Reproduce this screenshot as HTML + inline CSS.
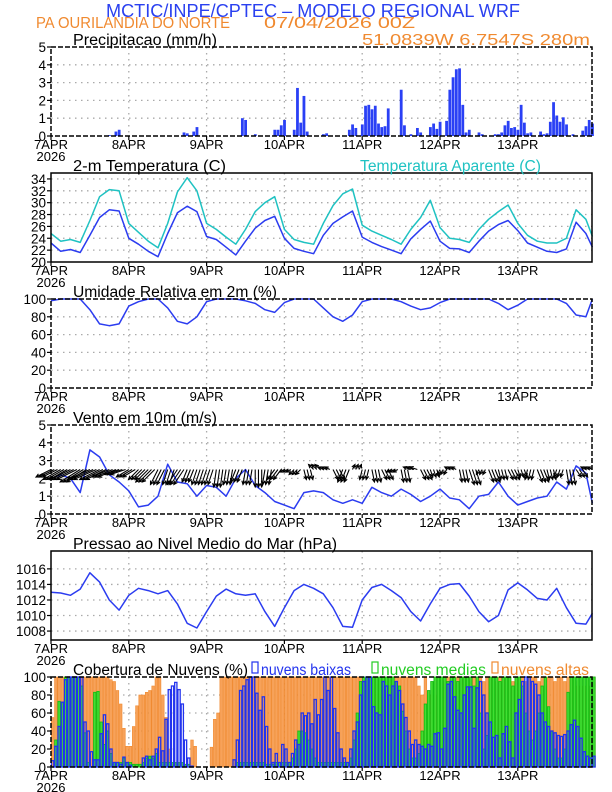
<!DOCTYPE html>
<html><head><meta charset="utf-8"><style>
html,body{margin:0;padding:0;background:#fff;}
svg{display:block;font-family:"Liberation Sans",sans-serif;}
</style></head><body>
<svg id="chart" width="612" height="792" viewBox="0 0 612 792" xmlns="http://www.w3.org/2000/svg">
<text x="106" y="17" font-size="18" fill="#2a40f0" textLength="414" lengthAdjust="spacingAndGlyphs">MCTIC/INPE/CPTEC – MODELO REGIONAL WRF</text>
<text x="36" y="28" font-size="16" fill="#f08a30" textLength="194" lengthAdjust="spacingAndGlyphs">PA OURILANDIA DO NORTE</text>
<text x="264" y="28" font-size="16" fill="#f08a30" textLength="151" lengthAdjust="spacingAndGlyphs">07/04/2026 00Z</text>
<text x="362" y="45" font-size="16" fill="#f08a30" textLength="228" lengthAdjust="spacingAndGlyphs">51.0839W 6.7547S 280m</text>
<g id="plots"></g>
</svg>
<script>
// ---------- DATA ----------
const days = ["7APR","8APR","9APR","10APR","11APR","12APR","13APR"];
const hours3 = [0,3,6,9,12,15,18,21,24,27,30,33,36,39,42,45,48,51,54,57,60,63,66,69,72,75,78,81,84,87,90,93,96,99,102,105,108,111,114,117,120,123,126,129,132,135,138,141,144,147,150,153,156,159,162,165,168];
const precipHours = [18,20,21,41,42,44,45,59,60,63,69,70,71,72,75,76,77,78,79,84,85,92,93,94,96,97,98,99,100,101,102,103,104,108,109,111,113,114,117,118,119,120,122,123,124,125,126,127,128,129,132,133,137,138,139,140,141,142,143,144,145,146,147,148,151,152,153,154,155,156,157,158,159,161,164,165,166,167];
const precipVals = [0.05,0.25,0.35,0.2,0.15,0.25,0.5,1.0,0.9,0.1,0.35,0.35,0.6,0.9,0.35,2.7,0.75,2.25,0.25,0.1,0.15,0.35,0.65,0.45,0.65,1.7,1.75,1.5,1.7,0.7,0.5,0.55,1.55,2.6,0.6,0.1,0.45,0.2,0.5,0.7,0.4,0.8,0.85,2.6,3.3,3.75,3.8,1.75,0.2,0.35,0.2,0.1,0.1,0.1,0.2,0.6,0.85,0.45,0.5,0.35,1.75,0.75,0.15,0.2,0.25,0.1,0.15,0.8,1.9,1.15,0.8,1.05,0.65,0.1,0.3,0.55,0.9,0.7];
const temp2m = [23.2,21.8,22.1,21.6,24.5,27.5,28.8,28.6,24.0,23.0,21.8,20.9,24.8,28.3,29.4,28.5,24.3,23.8,22.5,21.2,23.5,25.7,27.0,27.7,24.0,22.3,21.8,21.4,24.5,26.5,27.6,28.6,24.2,23.3,22.6,22.0,21.4,23.9,25.5,26.9,23.5,22.3,22.2,21.6,23.5,25.2,26.3,27.0,25.3,23.2,22.5,21.8,21.6,22.2,26.7,24.8,22.5];
const tempApparent = [24.8,23.5,23.8,23.3,27.0,31.0,32.2,32.0,26.5,25.0,23.5,22.4,26.5,31.8,34.2,32.0,26.5,25.5,24.2,23.0,25.5,28.5,30.0,31.0,25.5,23.8,23.3,23.0,26.5,29.5,31.5,32.3,26.2,25.2,24.5,23.8,23.0,25.5,27.5,30.4,25.8,24.0,23.8,23.3,25.5,27.2,28.5,29.6,26.5,24.5,23.5,23.2,23.2,24.0,28.8,27.2,24.3];
const relHum = [98,100,100,100,88,72,70,72,92,97,100,100,90,75,72,80,97,100,100,100,98,95,88,85,96,100,100,100,90,80,75,82,97,100,100,100,97,92,88,90,96,100,100,100,100,100,95,88,93,100,100,100,100,95,82,80,100];
const windSpeed = [2.0,2.2,2.0,1.2,3.6,3.2,2.2,1.8,1.3,0.4,0.5,1.0,2.8,1.8,1.7,1.0,1.6,1.5,1.0,2.0,2.5,1.6,1.2,0.7,0.5,0.3,1.2,1.3,1.2,0.8,0.6,0.8,0.6,1.5,1.2,1.0,1.4,1.1,0.7,1.0,1.4,0.9,0.8,0.3,1.0,1.1,1.8,1.0,0.5,0.7,0.9,1.0,1.8,1.4,2.7,2.3,0.6];
const windU = [-3,-3.5,-4,-4,-4.5,-4,-3.5,-3, -2.5,-2,-2.5,-1.5,-1,-2,-1,-1, -1,-0.5,-0.5,-1,-0.5,0,-0.5,-1.5, -1,-1,0.5,-1,-1,1,-1,0.5, -0.5,0.5,1,-1,0.5,-1.5,1,0.5, -0.5,-1,0.5,1,-0.5,1,0.5,1, 0.5,-0.5,1,0.5,-0.5,0.5,1,-1,-2];
const windV = [-1.5,-2,-2,-2.5,-2,-2,-1.5,-1, -1.5,-2,-2.5,-3,-3,-3,-2.5,-3, -3,-3.5,-3,-2.5,-3,-3.5,-3,-2, -0.5,-1,-2,1,0.5,-2,-2.5,1, -2,-2.5,-2,-0.5,-2.5,0.5,-2,-1.5, -1,0.5,-2.5,-3,-1,-2.5,-2,-2, -1.5,-2,-2.5,-2,-1.5,-3,-1.5,0.5,0.3];
const pressure = [1013.0,1012.9,1012.6,1013.4,1015.5,1014.3,1012.0,1010.7,1012.6,1013.5,1013.2,1012.8,1013.2,1011.5,1009.0,1008.4,1010.5,1012.5,1013.4,1012.8,1012.6,1012.8,1010.5,1008.6,1011.0,1013.2,1014.0,1013.5,1012.8,1011.0,1008.6,1008.5,1012.0,1013.6,1014.0,1013.2,1012.3,1010.5,1009.3,1011.5,1013.5,1014.0,1014.1,1012.5,1010.5,1009.2,1010.0,1013.3,1014.2,1013.3,1012.2,1012.0,1013.5,1011.0,1009.0,1008.9,1010.3];
const cloudLow = [7,23,45,72,97,100,100,100,100,100,50,40, 17,8,8,37,58,48,20,5,5,3,11,5, 2,0,0,0,10,12,8,12,20,33,18,53, 86,90,94,86,70,30,10,1,0,0,0,0, 0,0,0,0,0,0,0,0,8,30,85,90, 97,100,100,82,63,78,45,20,5,15,5,25, 20,5,15,30,25,60,57,60,48,75,58,75, 100,85,100,65,38,20,10,5,20,40,50,80, 95,100,100,67,60,58,95,90,80,90,95,85, 70,55,40,25,30,25,23,20,25, 23,37,38,20,43,92,95,78,63,60,80,89, 89,43,88,95,80,60,50,33,35,10,37,45, 28,10,60,75,95,100,100,95,92,80,60,50, 45,40,38,35,34,36,40,47,52,45,32,17,12,10,12];
const cloudMid = [0,30,73,72,100,100,100,100,100,90,38,5, 0,83,84,50,25,40,15,5,5,5,10,5, 5,3,3,3,5,10,12,10,15,5,5,5, 5,5,5,5,5,3,3,0,0,0,0,0, 0,0,0,0,0,0,0,0,0,5,5,5, 5,5,5,5,5,5,3,3,3,5,5,5, 5,5,10,20,40,40,38,30,20,10,5,5, 5,5,5,5,5,5,5,5,10,30,60,95, 100,100,100,100,100,100,100,100,100,100,95,90, 62,40,20,10,10,15,40,70,85,95,100,100, 100,100,95,100,100,95,100,100,100,100,90,100, 60,20,35,100,100,100,95,100,100,100,90,100, 100,90,60,40,30,40,60,90,100,67,40,20, 10,10,20,83,100,100,100,100,100,100,100,100];
const cloudHigh = [55,100,100,100,100,100,100,100,100,100,100,100, 100,100,100,100,100,100,97,95,85,70,43,23, 23,45,68,80,80,83,85,90,100,100,80,55, 20,0,0,0,0,0,0,30,23,0,0,0, 0,22,53,60,100,100,100,100,100,100,100,100, 100,100,100,100,100,100,100,100,100,100,100,100, 100,100,100,100,100,100,100,100,100,100,100,100, 100,100,100,100,100,100,100,100,100,100,100,100, 100,100,100,100,100,100,100,100,100,100,100,100, 100,100,100,100,100,90,80,100,80,80,80,100, 100,95,100,100,95,100,100,100,95,100,100,100, 100,95,100,100,100,95,100,100,100,100,95,100, 100,100,95,100,100,100,95,100,90,100,100,95, 100,100,95,100,100,95,90,100,90,85,90,100];

// ---------- HELPERS ----------
const NS = "http://www.w3.org/2000/svg";
const root = document.getElementById("plots");
const X0 = 51, PXH = 77.8/24, X1 = 592;
function xs(h){ return X0 + h*PXH; }
function mk(tag, attrs, parent){
  const e = document.createElementNS(NS, tag);
  for (const k in attrs) e.setAttribute(k, attrs[k]);
  (parent||root).appendChild(e);
  return e;
}
function txt(str, x, y, size, fill, anchor, parent){
  const t = mk("text", {x:x, y:y, "font-size":size, fill:fill||"#000", "text-anchor":anchor||"start"}, parent);
  t.textContent = str;
  return t;
}
function panel(name, top, bot, ymin, ymax, ticks){
  const g = mk("g", {});
  
  
  const ys = v => bot - (v-ymin)/(ymax-ymin)*(bot-top);
  ticks.forEach(v=>{
    if (v>ymin && v<ymax){
      const l = mk("line",{x1:X0,x2:X1,y1:ys(v),y2:ys(v),stroke:"#aaa","stroke-width":1.3,"stroke-dasharray":"1.5,4.5"},g);
      
      
    }
  });
  for (let d=1; d<7; d++){
    const l = mk("line",{x1:xs(d*24),x2:xs(d*24),y1:top,y2:bot,stroke:"#aaa","stroke-width":1.3,"stroke-dasharray":"1.5,4.5"},g);
    
    
  }
  const yt = mk("g",{},g);
  
  
  ticks.forEach(v=>{
    mk("line",{x1:X0-4,x2:X0,y1:ys(v),y2:ys(v),stroke:"#000","stroke-width":1.2},yt);
    const t = txt(String(v), X0-5, ys(v)+5, 13.5, "#000", "end", yt);
    
    
  });
  const xt = mk("g",{},g);
  
  
  days.forEach((d,i)=>{
    const x = xs(i*24);
    mk("line",{x1:x,x2:x,y1:bot,y2:bot+4,stroke:"#000","stroke-width":1.2},xt);
    const t = txt(d, x, bot+13, 13, "#000", "middle", xt);
    
    
  });
  const yr = txt("2026", X0, bot+25, 13, "#000", "middle", xt);
  
  
  const plot = mk("g",{},g);
  
  
  return {g, plot, ys, top, bot};
}
function frame(p, dashedTop){
  const f = mk("rect",{x:X0,y:p.top,width:X1-X0,height:p.bot-p.top,fill:"none",stroke:"#000","stroke-width":1.5,"stroke-dasharray":dashedTop?"5,2":"none"},p.g);
  
  
}
function line(p, hs, vals, color, name){
  const d = vals.map((v,i)=>(i?"L":"M")+xs(Math.min(hs[i],167)).toFixed(1)+","+p.ys(v).toFixed(1)).join("");
  const l = mk("path",{d:d,fill:"none",stroke:color,"stroke-width":1.5,"stroke-linejoin":"round"},p.plot);
  
  
}
function title(str, x, y, w, color, name){
  const t = mk("text",{x:x,y:y,"font-size":15.5,fill:color||"#000",textLength:w,lengthAdjust:"spacingAndGlyphs"});
  t.textContent = str;
  
  
  return t;
}

// ---------- PANEL 1: PRECIP ----------
const p1 = panel("precip", 47, 136, 0, 5, [0,1,2,3,4,5]);
precipHours.forEach((h,i)=>{
  const y = p1.ys(precipVals[i]);
  const r = mk("rect",{x:xs(h)-1.3,y:y,width:2.8,height:p1.bot-y,fill:"#2a40f5"},p1.plot);
  
  
});
frame(p1, true);
title("Precipitacao (mm/h)", 73, 45, 144, "#000", "precip-title");

// ---------- PANEL 2: TEMPERATURE ----------
const p2 = panel("temperature", 173, 262, 20, 35, [20,22,24,26,28,30,32,34]);
line(p2, hours3, tempApparent, "#1fc2c2", "apparent-temperature-line");
line(p2, hours3, temp2m, "#2b3cf0", "temperature-line");
frame(p2, false);
title("2-m Temperatura (C)", 73, 171, 153, "#000", "temperature-title");
title("Temperatura Aparente (C)", 360, 171, 181, "#1fc2c2", "apparent-temperature-title");

// ---------- PANEL 3: HUMIDITY ----------
const p3 = panel("humidity", 299, 388, 0, 100, [0,20,40,60,80,100]);
line(p3, hours3, relHum, "#2b3cf0", "humidity-line");
frame(p3, true);
title("Umidade Relativa em 2m (%)", 73, 297, 204, "#000", "humidity-title");

// ---------- PANEL 4: WIND ----------
const p4 = panel("wind", 425, 514, 0, 5, [0,1,2,3,4,5]);
line(p4, hours3, windSpeed, "#2b3cf0", "wind-speed-line");
hours3.forEach((h,i)=>{
  for (let k=0; k<3; k++){
    const hh = h + k;
    if (hh>167) return;
    const x0 = xs(hh), y0 = p4.ys(2.5);
    const x1 = x0 + windU[i]*5, y1 = y0 - windV[i]*5;
    const ang = Math.atan2(y1-y0, x1-x0);
    const a = mk("path",{d:`M${x0},${y0}L${x1},${y1}M${x1-4*Math.cos(ang-0.45)},${y1-4*Math.sin(ang-0.45)}L${x1},${y1}L${x1-4*Math.cos(ang+0.45)},${y1-4*Math.sin(ang+0.45)}`,stroke:"#000","stroke-width":1.1,fill:"none"},p4.plot);
    
    
  }
});
frame(p4, true);
title("Vento em 10m (m/s)", 73, 423, 144, "#000", "wind-title");

// ---------- PANEL 5: PRESSURE ----------
const p5 = panel("pressure", 551, 640, 1006.85, 1018.3, [1008,1010,1012,1014,1016]);
line(p5, hours3, pressure, "#2b3cf0", "pressure-line");
frame(p5, false);
title("Pressao ao Nivel Medio do Mar (hPa)", 73, 549, 264, "#000", "pressure-title");

// ---------- PANEL 6: CLOUDS ----------
const p6 = panel("clouds", 677, 767, 0, 100, [0,20,40,60,80,100]);
cloudHigh.forEach((v,h)=>{
  if (v<=0) return;
  const y = p6.ys(v);
  const r = mk("rect",{x:xs(h)+0.3,y:y,width:PXH-0.6,height:p6.bot-y,fill:"#f7a25a",stroke:"#f08a30","stroke-width":0.6},p6.plot);
  
  
});
cloudMid.forEach((v,h)=>{
  if (v<=0) return;
  const y = p6.ys(v);
  const r = mk("rect",{x:xs(h)+0.4,y:y,width:PXH-0.8,height:p6.bot-y,fill:"#44dd33",stroke:"#11bb11","stroke-width":0.8},p6.plot);
  
  
});
cloudLow.forEach((v,h)=>{
  if (v<=0) return;
  const y = p6.ys(v);
  const r = mk("rect",{x:xs(h)+0.5,y:y,width:PXH-1,height:p6.bot-y,fill:"none",stroke:"#2233ee","stroke-width":1.3},p6.plot);
  
  
});
frame(p6, true);
title("Cobertura de Nuvens (%)", 73, 675, 175, "#000", "clouds-title");
const legend = [["nuvens baixas","#2233ee",252,100],["nuvens medias","#22cc22",372,115],["nuvens altas","#f08a30",492,98]];
legend.forEach(([lab,col,x,w])=>{
  const lg = mk("g",{});
  
  
  mk("rect",{x:x,y:662,width:6,height:11,fill:"none",stroke:col,"stroke-width":1.2},lg);
  const t = mk("text",{x:x+9,y:675,"font-size":15.5,fill:col,textLength:w-10,lengthAdjust:"spacingAndGlyphs"},lg);
  t.textContent = lab;
});
</script>
</body></html>
